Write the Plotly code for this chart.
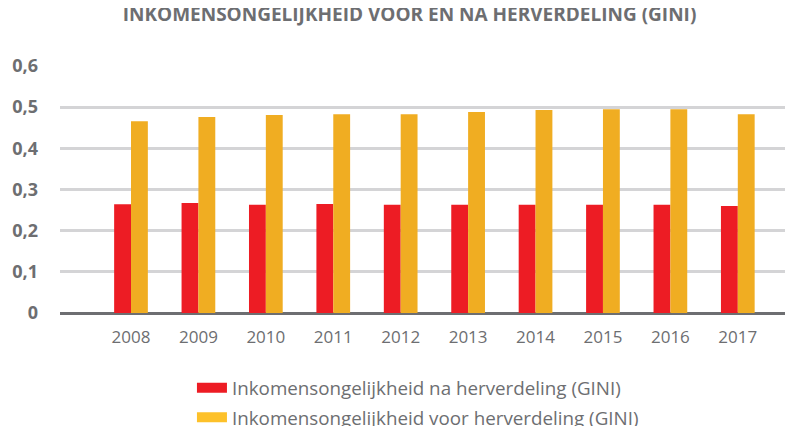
import plotly.graph_objects as go

years = [2008, 2009, 2010, 2011, 2012, 2013, 2014, 2015, 2016, 2017]
year_labels = [str(y) for y in years]
gini_na = [0.264, 0.267, 0.263, 0.265, 0.263, 0.263, 0.263, 0.263, 0.263, 0.260]
gini_voor = [0.466, 0.476, 0.481, 0.483, 0.483, 0.488, 0.493, 0.495, 0.495, 0.483]
name_na = "Inkomensongelijkheid na herverdeling (GINI)"
name_voor = "Inkomensongelijkheid voor herverdeling (GINI)"
y_tickvals = [0, 0.1, 0.2, 0.3, 0.4, 0.5, 0.6]
y_ticktext = ["0", "0,1", "0,2", "0,3", "0,4", "0,5", "0,6"]
title_text = "INKOMENSONGELIJKHEID VOOR EN NA HERVERDELING (GINI)"

RED = "#ED1C24"
YEL = "#F0AD22"
YEL_LEG = "#FDC12A"
GREY = "#6D6E71"
FONT = "Open Sans"

fig = go.Figure()
fig.add_trace(go.Bar(x=years, y=gini_na, marker_color=RED, marker_line_width=0,
                     name=name_na, showlegend=False))
fig.add_trace(go.Bar(x=years, y=gini_voor, marker_color=YEL, marker_line_width=0,
                     name=name_voor, showlegend=False))
# legend entries (pill-like)
fig.add_trace(go.Scatter(x=[None], y=[None], mode="lines", name=name_na,
                         legendgroup="a", line=dict(color=RED, width=13)))
fig.add_trace(go.Scatter(x=[None], y=[None], mode="lines", name=name_voor,
                         legendgroup="b", line=dict(color=YEL_LEG, width=13)))

fig.update_layout(
    width=791, height=418,
    margin=dict(l=52, r=14, t=58, b=113, autoexpand=False),
    paper_bgcolor="white", plot_bgcolor="white",
    barmode="group", bargap=0.5, bargroupgap=0,
    title=dict(text=title_text, x=0.5076, xanchor="center", y=1.0, yanchor="top",
               font=dict(family=FONT, size=19, color=GREY, weight="bold")),
    xaxis=dict(tickvals=years, ticktext=year_labels, range=[2006.947, 2017.70],
               showgrid=False, zeroline=False, showline=False,
               ticks="", ticklabelstandoff=12,
               tickfont=dict(family=FONT, size=17, color=GREY)),
    yaxis=dict(range=[0, 0.6], tickvals=y_tickvals, ticktext=y_ticktext,
               showgrid=True, gridcolor="#D4D4D6", gridwidth=2.5,
               zeroline=True, zerolinecolor=GREY, zerolinewidth=3,
               showline=False, ticks="", ticklabelstandoff=21,
               tickfont=dict(family=FONT, size=18, color=GREY, weight="bold")),
    legend=dict(x=0.182, xanchor="left", yref="container", y=0.136, yanchor="top",
                font=dict(family=FONT, size=18.8, color=GREY),
                tracegroupgap=2, itemwidth=30, bgcolor="rgba(0,0,0,0)"),
    showlegend=True,
)

fig.write_html("out.html")
